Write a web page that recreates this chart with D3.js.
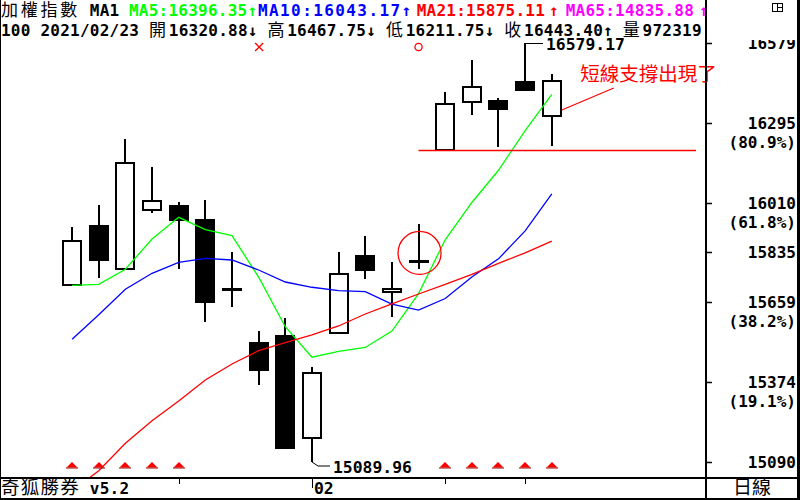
<!DOCTYPE html>
<html lang="zh-TW"><head><meta charset="utf-8">
<script src="https://cdn.jsdelivr.net/npm/d3@7"></script>
<style>
html,body{margin:0;padding:0;background:#fff;}
svg{display:block;}
</style></head><body>
<svg id="c" width="800" height="500"></svg>
<script>
// ---------------- data ----------------
const dates = ["2021/01/19","2021/01/20","2021/01/21","2021/01/22","2021/01/25","2021/01/26","2021/01/27","2021/01/28","2021/01/29",
  "2021/02/01","2021/02/02","2021/02/03","2021/02/04","2021/02/05","2021/02/17","2021/02/18","2021/02/19","2021/02/22","2021/02/23"];
const opens  = [15718.0,15932.3,15774.9,15984.6,16003.4,15953.7,15709.5,15516.5,15541.4,15174.2,15547.4,15825.7,15695.3,15803.3,16198.9,16368.4,16375.5,16443.1,16320.88];
const highs  = [15926.3,16003.4,16238.0,16138.5,16014.1,16021.2,15835.3,15555.6,15601.8,15427.6,15836.4,15893.2,15800.8,15935.9,16404.0,16518.8,16382.7,16579.17,16467.75];
const lows   = [15716.0,15745.0,15773.0,15973.9,15774.9,15588.6,15642.0,15364.7,15136.0,15089.96,15546.0,15740.4,15606.4,15774.9,16198.9,16324.4,16210.6,16409.7,16211.75];
const closes = [15875.5,15805.4,16151.6,16017.6,15947.6,15656.2,15698.8,15414.5,15137.3,15405.2,15758.2,15769.9,15704.9,15803.3,16362.4,16421.7,16342.1,16409.7,16443.40];
const ma5  = [15718.0,15721.6,15774.9,15882.6,15959.5,15915.7,15894.4,15746.9,15570.9,15462.4,15482.8,15497.0,15555.1,15688.3,15879.7,16012.4,16126.9,16267.8,16396.35];
const ma10 = [15526.1,15613.5,15703.8,15760.7,15799.8,15814.0,15807.9,15772.4,15729.7,15711.0,15699.2,15695.7,15651.0,15629.6,15671.1,15747.6,15812.0,15911.5,16043.17];
const ma21 = [14986.9,15059.1,15156.5,15236.8,15306.8,15381.4,15438.3,15485.6,15514.0,15541.4,15573.4,15616.0,15651.6,15687.1,15720.9,15757.1,15795.9,15833.5,15875.11];

const priceHigh = 16579.17, priceLow = 15089.96;
const yTickValues   = [16579, 16295, 16010, 15835, 15659, 15374, 15090];
const yTickPercents = ["", "(80.9%)", "(61.8%)", "", "(38.2%)", "(19.1%)", ""];
const weekTickDates = ["2021/01/25","2021/02/01","2021/02/17","2021/02/22"];
const monthTickDates = ["2021/02/01"];
const monthTickLabels = ["02"];
const buySignalDates = ["2021/01/19","2021/01/20","2021/01/21","2021/01/22","2021/01/25","2021/02/17","2021/02/18","2021/02/19","2021/02/22","2021/02/23"];
const crossSignalDates = ["2021/01/28"];
const ringSignalDates = ["2021/02/05"];
const circledDate = "2021/02/05", circledValue = 15833;
const supportFromDate = "2021/02/05", supportValue = 16198.9;
const noteDate = "2021/02/23", noteValue = 16341, noteText = "短線支撐出現了";

const titleText = "加權指數 MA1";
const maNames  = ["MA5","MA10","MA21","MA65"];
const maLatest = ["16396.35","16043.17","15875.11","14835.88"];
const maArrows = ["↑","↑","↑","↑"];
const maColors = ["#00ff00","#0000ff","#ff0000","#ff00ff"];
const quotePrefix = "100 2021/02/23 ";
const quoteLabels = ["開","高","低","收","量"];
const quoteValues = ["16320.88","16467.75","16211.75","16443.40","972319"];
const quoteArrows = ["↓","↓","↓","↑",""];
const footerLeft = "奇狐勝券 v5.2";
const periodLabel = "日線";

// ---------------- layout ----------------
const MONO = "'DejaVu Sans Mono', 'Liberation Mono', monospace";
const CJK = "'Noto Sans CJK TC', 'Noto Sans CJK SC', sans-serif";
const CJK_IN_MONO = "'DejaVu Sans Mono', 'Noto Sans CJK TC', 'Noto Sans CJK SC', sans-serif";
const CELL = 9.87;
const MONO_SIZE = 16, CJK_SIZE = 17;
const plotW = 706, plotH = 478;
const svg = d3.select("#c");
svg.append("rect").attr("width",800).attr("height",500).attr("fill","#fff");

const x = d3.scalePoint().domain(dates).range([72.1, 551.8]);
const y = d3.scaleLinear().domain([priceLow, priceHigh]).range([462, 43]);

svg.append("clipPath").attr("id","pc").append("rect").attr("x",0).attr("y",0).attr("width",plotW).attr("height",plotH);
const plot = svg.append("g").attr("clip-path","url(#pc)");

const candles = dates.map((d,i)=>({d, o:opens[i], h:highs[i], l:lows[i], c:closes[i]}));
const cx = d => Math.round(x(d.d));
plot.selectAll("line.wick").data(candles).join("line").attr("class","wick")
  .attr("x1",cx).attr("x2",cx)
  .attr("y1",d=>Math.round(y(d.h))).attr("y2",d=>Math.round(y(d.l)))
  .attr("stroke","#000").attr("stroke-width",2);
plot.selectAll("rect.body").data(candles).join("rect").attr("class","body")
  .attr("x",d=> d.c>=d.o ? cx(d)-9 : cx(d)-10)
  .attr("width",d=> d.c>=d.o ? 18 : 20)
  .attr("y",d=>Math.round(y(Math.max(d.o,d.c))))
  .attr("height",d=>Math.max(Math.round(y(Math.min(d.o,d.c))) - Math.round(y(Math.max(d.o,d.c))), 1))
  .attr("fill",d=> d.c>=d.o ? "#fff" : "#000")
  .attr("stroke",d=> d.c>=d.o ? "#000" : "none")
  .attr("stroke-width",2);

// moving averages
const maSeries = [[ma5,"#00ff00"],[ma10,"#0000ff"],[ma21,"#ff0000"]];
maSeries.forEach(([vals,col])=>{
  const line = d3.line().x((v,i)=>x(dates[i])).y(v=>y(v));
  plot.append("path").attr("d",line(vals)).attr("fill","none").attr("stroke",col).attr("stroke-width",1.3);
});

// support line + note
plot.append("line").attr("x1",x(supportFromDate)).attr("x2",plotW-10)
  .attr("y1",Math.round(y(supportValue))+0.5).attr("y2",Math.round(y(supportValue))+0.5)
  .attr("stroke","#ff0000").attr("stroke-width",1.5);
const nx = x(noteDate), ny = y(noteValue);
plot.append("line").attr("x1",nx+10).attr("y1",ny).attr("x2",nx+62).attr("y2",ny-22)
  .attr("stroke","#ff0000").attr("stroke-width",1.2);
svg.append("text").attr("x",nx+28.5).attr("y",ny-29).attr("fill","#ff0000")
  .attr("font-family",CJK).attr("font-size",19.5).text(noteText);

// circle on doji
plot.append("circle").attr("cx",x(circledDate)+1).attr("cy",y(circledValue)).attr("r",21.5)
  .attr("fill","none").attr("stroke","#ff0000").attr("stroke-width",1.3);

// top signals
const sigY = y(priceHigh) + 4;
crossSignalDates.forEach(d=>{
  const px = x(d)+0.5;
  plot.append("path").attr("d",`M${px-4},${sigY-4}L${px+4},${sigY+4}M${px+4},${sigY-4}L${px-4},${sigY+4}`)
    .attr("stroke","#ff0000").attr("stroke-width",1.3);
});
ringSignalDates.forEach(d=>{
  plot.append("circle").attr("cx",x(d)).attr("cy",sigY).attr("r",3.6)
    .attr("fill","none").attr("stroke","#ff0000").attr("stroke-width",1.3);
});

// bottom buy triangles
const triTop = y(priceLow), triBase = triTop + 5.5;
buySignalDates.forEach(d=>{
  const px = Math.round(x(d));
  plot.append("path").attr("d",`M${px-5.5},${triBase}L${px},${triTop}L${px+5.5},${triBase}Z`).attr("fill","#ff0000");
  plot.append("line").attr("x1",px-6).attr("x2",px+6).attr("y1",triBase+0.5).attr("y2",triBase+0.5)
    .attr("stroke","#990000").attr("stroke-width",1);
});

// high / low labels
const hiI = highs.indexOf(d3.max(highs)), loI = lows.indexOf(d3.min(lows));
const hx = Math.round(x(dates[hiI])), hy = Math.round(y(highs[hiI]));
plot.append("line").attr("x1",hx).attr("x2",hx+18).attr("y1",hy+0.5).attr("y2",hy+0.5).attr("stroke","#000").attr("stroke-width",1);
svg.append("text").attr("x",hx+21).attr("y",hy+6.5).attr("font-family",MONO).attr("font-weight","bold").attr("font-size",16.4)
  .attr("fill","#000").text(highs[hiI].toFixed(2));
const lx = Math.round(x(dates[loI])), ly = Math.round(y(lows[loI]));
plot.append("path").attr("d",`M${lx},${ly-2}L${lx},${ly}L${lx+6},${ly+4}L${lx+18},${ly+4}`)
  .attr("fill","none").attr("stroke","#000").attr("stroke-width",1);
svg.append("text").attr("x",lx+21).attr("y",ly+11).attr("font-family",MONO).attr("font-weight","bold").attr("font-size",16.4)
  .attr("fill","#000").text(lows[loI].toFixed(2));

// ---------------- frame ----------------
const frame = svg.append("g").attr("stroke","#000").attr("fill","none");
frame.append("line").attr("x1",0.5).attr("x2",0.5).attr("y1",0).attr("y2",500).attr("stroke-width",1);
frame.append("line").attr("x1",798.5).attr("x2",798.5).attr("y1",0).attr("y2",500).attr("stroke-width",3);
frame.append("line").attr("x1",0).attr("x2",800).attr("y1",499).attr("y2",499).attr("stroke-width",2);
frame.append("line").attr("x1",706).attr("x2",706).attr("y1",0).attr("y2",500).attr("stroke-width",2);
frame.append("line").attr("x1",0).attr("x2",800).attr("y1",478).attr("y2",478).attr("stroke-width",2);

// y axis (right): value with its retracement percentage below
const yAxis = svg.append("g");
yTickValues.forEach((v,i)=>{
  const ty = Math.round(y(v)) + 0.5;
  yAxis.append("line").attr("x1",707).attr("x2",712).attr("y1",ty).attr("y2",ty).attr("stroke","#000").attr("stroke-width",1.5);
  yAxis.append("text").attr("x",796).attr("y",ty+5.5).attr("text-anchor","end").attr("font-family",MONO)
    .attr("font-weight","bold").attr("font-size",16).attr("fill","#000").text(String(v));
  if (yTickPercents[i]) {
    yAxis.append("text").attr("x",796).attr("y",ty+24.5).attr("text-anchor","end").attr("font-family",MONO)
      .attr("font-weight","bold").attr("font-size",16).attr("fill","#000").text(yTickPercents[i]);
  }
});

// x axis ticks
weekTickDates.forEach(d=>{
  const px = Math.round(x(d)) + 0.5;
  const isMonth = monthTickDates.includes(d);
  svg.append("line").attr("x1",px).attr("x2",px).attr("y1",479).attr("y2",isMonth?488:484).attr("stroke","#000").attr("stroke-width",1);
});
monthTickDates.forEach((d,i)=>{
  svg.append("text").attr("x",Math.round(x(d))+2).attr("y",494).attr("font-family",MONO).attr("font-weight","bold")
    .attr("font-size",16.4).attr("fill","#000").text(monthTickLabels[i]);
});

// ---------------- header text ----------------
const isWide = ch => ch.charCodeAt(0) >= 0x2E80;
function addRun(textSel, str, x0, color, arrowCells, cell, cjkSize) {
  cell = cell || CELL;
  cjkSize = cjkSize || CJK_SIZE;
  let xx = x0, i = 0;
  while (i < str.length) {
    const wide = isWide(str[i]);
    const xs = []; let s = ""; let j = i;
    while (j < str.length && isWide(str[j]) === wide) {
      xs.push(xx.toFixed(2)); s += str[j];
      let w = wide ? 2*CELL : cell;
      if (str[j] === "↑" || str[j] === "↓") w = arrowCells*CELL;
      xx += w; j++;
    }
    textSel.append("tspan").attr("x",xs.join(" ")).attr("fill",color)
      .attr("font-family", wide ? CJK_IN_MONO : MONO).attr("font-size", wide ? cjkSize : MONO_SIZE)
      .attr("font-weight", wide ? "normal" : "bold").text(s);
    i = j;
  }
  return xx;
}
const line1 = svg.append("text").attr("y",16.3);
addRun(line1, titleText, 1, "#000", 1);
// layout of the MA readouts (start of text, start of arrow, char pitch)
const maTextX  = [129, 258, 416.7, 565.7];
const maArrowX = [247.4, 401.5, 549, 699];
const maPitch  = [CELL, 11.04, CELL, CELL];
maNames.forEach((n,i)=>{
  addRun(line1, n + ":" + maLatest[i], maTextX[i], maColors[i], 1, maPitch[i]);
  addRun(line1, maArrows[i], maArrowX[i], maColors[i], 1);
});
const line2 = svg.append("text").attr("y",35.8);
let qx = addRun(line2, quotePrefix, 1, "#000", 2);
quoteLabels.forEach((lab,i)=>{
  qx = addRun(line2, lab + quoteValues[i] + quoteArrows[i], qx, "#000", 2);
});

// cover anything spilling over divider in header rows
svg.append("rect").attr("x",707).attr("y",0).attr("width",90).attr("height",40).attr("fill","#fff");
svg.append("line").attr("x1",706).attr("x2",706).attr("y1",0).attr("y2",40).attr("stroke","#000").attr("stroke-width",2);

// tiny window icon
const ic = svg.append("g").attr("stroke","#000").attr("fill","none").attr("stroke-width",1);
ic.append("rect").attr("x",772.5).attr("y",3.5).attr("width",10).attr("height",8);
ic.append("line").attr("x1",777.5).attr("x2",777.5).attr("y1",3.5).attr("y2",11.5);
ic.append("line").attr("x1",777.5).attr("x2",782.5).attr("y1",7.5).attr("y2",7.5);

// footer
const f1 = svg.append("text").attr("y",494);
addRun(f1, footerLeft, 1, "#000", 1, CELL, 18.5);
svg.append("text").attr("x",752).attr("y",494).attr("text-anchor","middle").attr("font-family",CJK)
  .attr("font-size",19).attr("fill","#000").text(periodLabel);
</script>
</body></html>
